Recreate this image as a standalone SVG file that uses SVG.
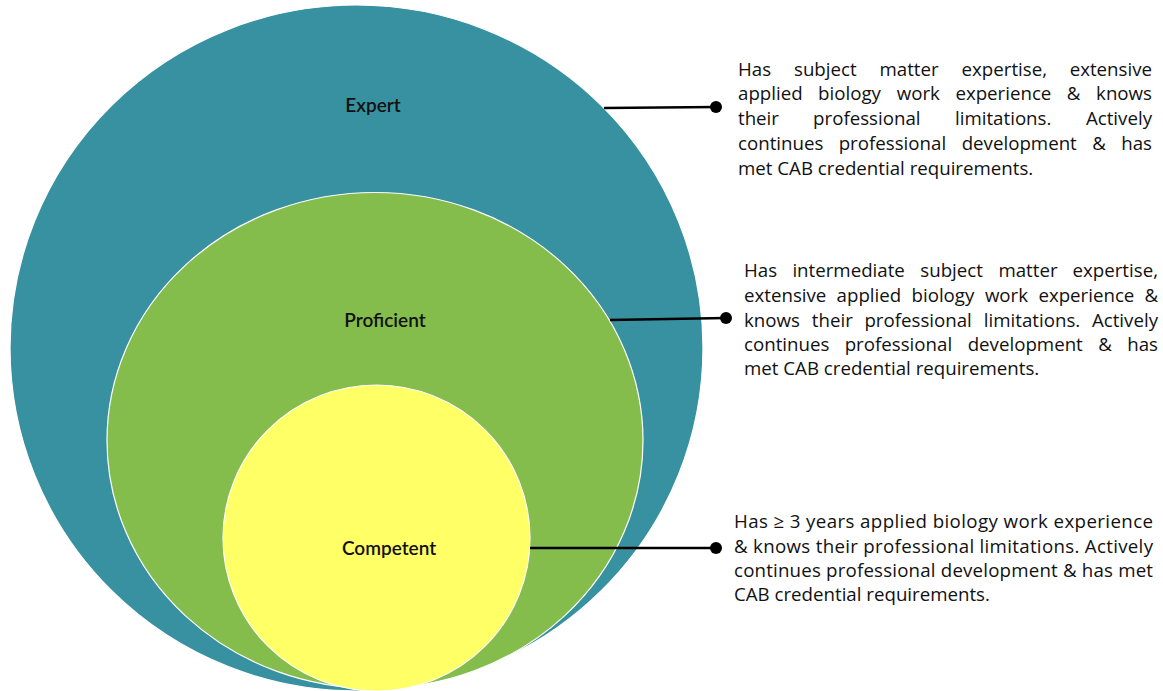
<svg xmlns="http://www.w3.org/2000/svg" width="1163" height="691" viewBox="0 0 1163 691">
<style>
.lvl{stroke:#fff;stroke-width:1.2}
.lbl{font-family:Lato,"Open Sans",sans-serif;font-size:19px;font-weight:600;fill:#111;text-anchor:middle}
.desc{font-family:"Open Sans",Lato,sans-serif;font-size:18.7px;fill:#111}
.con{stroke:#000;stroke-width:2.5;fill:none}
.dot{fill:#000}
</style>
<rect width="1163" height="691" fill="#fff"/>
<g id="expert">
<ellipse class="lvl" cx="356.5" cy="348" rx="346.5" ry="343" fill="#3891A0"/>
<text class="lbl" x="373" y="112">Expert</text>
</g>
<g id="proficient">
<ellipse class="lvl" cx="375" cy="440.5" rx="268" ry="248" fill="#84BD4C"/>
<text class="lbl" x="385" y="327">Proficient</text>
</g>
<g id="competent">
<ellipse class="lvl" cx="376.5" cy="538" rx="153.5" ry="153" fill="#FFFF66"/>
<text class="lbl" x="389" y="555">Competent</text>
</g>
<g id="connectors">
<line class="con" x1="604" y1="108" x2="716" y2="107"/>
<circle class="dot" cx="716" cy="107" r="6"/>
<line class="con" x1="610" y1="320" x2="726" y2="318"/>
<circle class="dot" cx="726" cy="318" r="6"/>
<line class="con" x1="530" y1="548" x2="716" y2="548"/>
<circle class="dot" cx="716" cy="548" r="6"/>
</g>
<g id="desc-expert" class="desc">
<text y="76"><tspan x="738">Has</tspan><tspan x="794">subject</tspan><tspan x="879.5">matter</tspan><tspan x="961.6">expertise,</tspan><tspan x="1152" text-anchor="end">extensive</tspan></text>
<text y="100"><tspan x="738">applied</tspan><tspan x="818.1">biology</tspan><tspan x="896.7">work</tspan><tspan x="955.4">experience</tspan><tspan x="1066.8">&amp;</tspan><tspan x="1152" text-anchor="end">knows</tspan></text>
<text y="125"><tspan x="738">their</tspan><tspan x="813.1">professional</tspan><tspan x="955">limitations.</tspan><tspan x="1152" text-anchor="end">Actively</tspan></text>
<text y="150"><tspan x="738">continues</tspan><tspan x="838.7">professional</tspan><tspan x="961.7">development</tspan><tspan x="1092.3">&amp;</tspan><tspan x="1152" text-anchor="end">has</tspan></text>
<text y="175" x="738">met CAB credential requirements.</text>
</g>
<g id="desc-proficient" class="desc">
<text y="277"><tspan x="744">Has</tspan><tspan x="792.4">intermediate</tspan><tspan x="920.3">subject</tspan><tspan x="998.4">matter</tspan><tspan x="1158" text-anchor="end">expertise,</tspan></text>
<text y="302"><tspan x="744">extensive</tspan><tspan x="836.6">applied</tspan><tspan x="911.5">biology</tspan><tspan x="984.9">work</tspan><tspan x="1038.4">experience</tspan><tspan x="1158" text-anchor="end">&amp;</tspan></text>
<text y="327"><tspan x="744">knows</tspan><tspan x="811.8">their</tspan><tspan x="864.4">professional</tspan><tspan x="983.8">limitations.</tspan><tspan x="1158" text-anchor="end">Actively</tspan></text>
<text y="351"><tspan x="744">continues</tspan><tspan x="844.7">professional</tspan><tspan x="967.7">development</tspan><tspan x="1098.3">&amp;</tspan><tspan x="1158" text-anchor="end">has</tspan></text>
<text y="375" x="744">met CAB credential requirements.</text>
</g>
<g id="desc-competent" class="desc">
<text y="528" x="734" textLength="419" lengthAdjust="spacing">Has ≥ 3 years applied biology work experience</text>
<text y="553" x="734" textLength="419" lengthAdjust="spacing">&amp; knows their professional limitations. Actively</text>
<text y="577" x="734" textLength="419" lengthAdjust="spacing">continues professional development &amp; has met</text>
<text y="601" x="734">CAB credential requirements.</text>
</g>
</svg>
